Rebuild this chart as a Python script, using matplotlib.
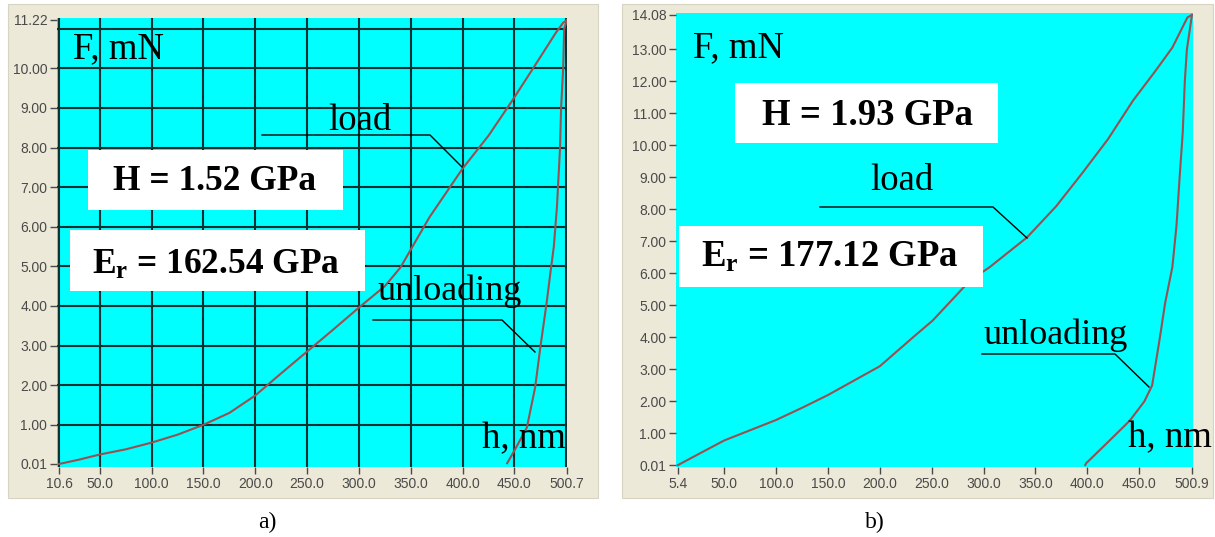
import matplotlib
matplotlib.use("Agg")
import matplotlib.pyplot as plt
from matplotlib.patches import Rectangle
from matplotlib.lines import Line2D

plt.rcParams['mathtext.fontset'] = 'custom'
plt.rcParams['mathtext.rm'] = 'Liberation Serif'
plt.rcParams['mathtext.bf'] = 'Liberation Serif:bold'

# ---------------- data: panel a ----------------
load_h_a = [10.6, 30, 50, 75, 100, 125, 150, 175, 200, 225, 250, 275, 300, 325, 340,
            368, 400, 425, 448, 468, 490, 497, 500.7]
load_F_a = [0.01, 0.12, 0.25, 0.38, 0.55, 0.75, 1.0, 1.3, 1.74, 2.3, 2.85, 3.4, 3.96, 4.5, 4.97,
            6.24, 7.47, 8.3, 9.19, 10.0, 10.9, 11.15, 11.22]
unload_h_a = [500.7, 498, 497, 495, 494, 492, 491, 488, 485, 481, 475, 470, 462, 450, 443]
unload_F_a = [11.22, 11.0, 10.0, 9.0, 8.0, 7.0, 6.5, 5.5, 4.9, 4.07, 2.96, 1.95, 0.93, 0.35, 0.03]
xticks_a = [10.6, 50, 100, 150, 200, 250, 300, 350, 400, 450, 500.7]
xlabels_a = ['10.6', '50.0', '100.0', '150.0', '200.0', '250.0', '300.0', '350.0', '400.0', '450.0', '500.7']
yticks_a = [0.01, 1, 2, 3, 4, 5, 6, 7, 8, 9, 10, 11.22]
ylabels_a = ['0.01', '1.00', '2.00', '3.00', '4.00', '5.00', '6.00', '7.00', '8.00', '9.00', '10.00', '11.22']
gridx_a = [10.6, 50, 100, 150, 200, 250, 300, 350, 400, 450, 500]
gridy_a = [1, 2, 3, 4, 5, 6, 7, 8, 9, 10, 11]

# ---------------- data: panel b ----------------
load_h_b = [5.4, 25, 50, 75, 100, 125, 150, 175, 200, 234, 251, 287, 306, 342, 370, 395,
            420, 444, 465, 482, 496.5, 500.9]
load_F_b = [0.01, 0.35, 0.78, 1.1, 1.42, 1.8, 2.2, 2.65, 3.1, 4.06, 4.53, 5.78, 6.2, 7.13, 8.1, 9.13,
            10.2, 11.4, 12.3, 13.06, 14.0, 14.08]
unload_h_b = [500.9, 496, 494, 492, 489, 486, 482, 475, 470, 465, 462.5, 455, 441, 419, 399, 398]
unload_F_b = [14.08, 13.0, 12.0, 10.4, 9.0, 7.5, 6.2, 5.07, 4.0, 3.0, 2.5, 2.0, 1.4, 0.7, 0.07, 0.01]
xticks_b = [5.4, 50, 100, 150, 200, 250, 300, 350, 400, 450, 500.9]
xlabels_b = ['5.4', '50.0', '100.0', '150.0', '200.0', '250.0', '300.0', '350.0', '400.0', '450.0', '500.9']
yticks_b = [0.01, 1, 2, 3, 4, 5, 6, 7, 8, 9, 10, 11, 12, 13, 14.08]
ylabels_b = ['0.01', '1.00', '2.00', '3.00', '4.00', '5.00', '6.00', '7.00', '8.00', '9.00',
             '10.00', '11.00', '12.00', '13.00', '14.08']

W, H = 1215, 537
fig = plt.figure(figsize=(W / 100, H / 100), dpi=100)
fig.patch.set_facecolor('white')

def fx(x):
    return x / W

def fy(y):
    return 1 - y / H

BEIGE = '#ECE9D8'
CYAN = '#00FFFF'
CURVE = '#9a5050'
TICKC = '#4a4a4a'

# beige panels
for (x0, x1, y0, y1) in [(8, 598, 4, 498), (622, 1213, 4, 498)]:
    fig.patches.append(Rectangle((fx(x0), fy(y1)), fx(x1 - x0), (y1 - y0) / H,
                                 transform=fig.transFigure, facecolor=BEIGE,
                                 edgecolor='#d8d4c4', lw=0.8, zorder=-5))

def make_axes(l, r, t, b):
    ax = fig.add_axes([fx(l), fy(b), fx(r - l), (b - t) / H])
    ax.set_zorder(1)
    return ax

def style(ax, xticks, xlabels, yticks, ylabels):
    ax.set_facecolor(CYAN)
    for s in ax.spines.values():
        s.set_visible(False)
    ax.set_xticks(xticks)
    ax.set_xticklabels(xlabels)
    ax.set_yticks(yticks)
    ax.set_yticklabels(ylabels)
    ax.tick_params(axis='both', direction='out', length=5, width=1, color=TICKC,
                   labelcolor=TICKC, labelsize=10, pad=2)
    for lab in ax.get_xticklabels() + ax.get_yticklabels():
        lab.set_fontfamily('Liberation Sans')

# ---------------- panel a ----------------
axa = make_axes(57, 567, 18, 467)
axa.set_xlim(8.7, 500.7)
axa.set_ylim(-0.066, 11.27)
style(axa, xticks_a, xlabels_a, yticks_a, ylabels_a)
axa.vlines(gridx_a, -0.066, 11.27, colors='#0b3030', lw=1.5, zorder=1)
axa.hlines(gridy_a, 8.7, 500.7, colors='#0b3030', lw=1.5, zorder=1)
axa.plot(load_h_a, load_F_a, color=CURVE, lw=1.5, zorder=3)
axa.plot(unload_h_a, unload_F_a, color=CURVE, lw=1.5, zorder=3)

# ---------------- panel b ----------------
axb = make_axes(676, 1193, 13, 467)
axb.set_xlim(3.5, 501.9)
axb.set_ylim(-0.05, 14.14)
style(axb, xticks_b, xlabels_b, yticks_b, ylabels_b)
axb.plot(load_h_b, load_F_b, color=CURVE, lw=1.5, zorder=3)
axb.plot(unload_h_b, unload_F_b, color=CURVE, lw=1.5, zorder=3)

# ---------------- annotations ----------------
SERIF = 'Liberation Serif'

def txt(x, y, s, size=26.5, weight='normal', ha='left'):
    fig.text(fx(x), fy(y), s, fontsize=size, fontweight=weight, family=SERIF,
             ha=ha, va='baseline', color='black', zorder=20)

def box(x0, x1, y0, y1):
    fig.patches.append(Rectangle((fx(x0), fy(y1)), fx(x1 - x0), (y1 - y0) / H,
                                 transform=fig.transFigure, facecolor='white',
                                 edgecolor='none', zorder=15))

def leader(pts):
    xs = [fx(p[0]) for p in pts]
    ys = [fy(p[1]) for p in pts]
    fig.add_artist(Line2D(xs, ys, transform=fig.transFigure, color='black', lw=1.0, zorder=20))

# panel a
txt(73, 58, 'F, mN')
box(88, 343, 150, 210)
txt(215, 190, 'H = 1.52 GPa', size=25.5, weight='bold', ha='center')
box(70, 365, 230, 291)
txt(216, 274, r'$\mathbf{E_r}$ = 162.54 GPa', size=25.5, weight='bold', ha='center')
txt(328, 130, 'load')
leader([(262, 135), (430, 135), (462, 167)])
txt(377, 300, 'unloading', size=26)
leader([(373, 320), (502, 320), (535, 352)])
txt(482, 448, 'h, nm')
txt(258, 528, 'a)', size=17)

# panel b
txt(693, 57, 'F, mN')
box(735, 998, 83, 143)
txt(867, 125, 'H = 1.93 GPa', size=26.5, weight='bold', ha='center')
box(679, 983, 226, 287)
txt(830, 267, r'$\mathbf{E_r}$ = 177.12 GPa', size=26.5, weight='bold', ha='center')
txt(870, 190, 'load')
leader([(820, 207), (993, 207), (1027, 238)])
txt(983, 344, 'unloading', size=26)
leader([(982, 354), (1115, 354), (1149, 387)])
txt(1128, 447, 'h, nm')
txt(865, 528, 'b)', size=17)

fig.savefig('out.png', dpi=100, facecolor='white')
